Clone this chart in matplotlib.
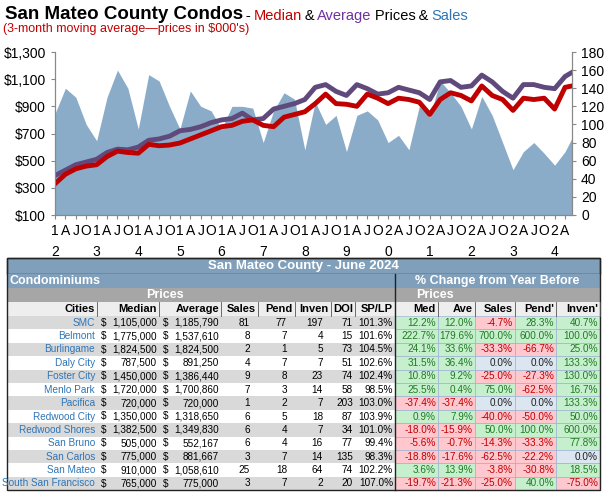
import numpy as np
import matplotlib.pyplot as plt
from matplotlib.patches import Rectangle

plt.rcParams['font.family'] = ['Liberation Sans', 'DejaVu Sans']

# quarterly points, months since Jan 2012
months = list(range(0, 148, 3)) + [149]
median = [330, 400, 440, 460, 470, 530, 570, 560, 555, 620, 610, 615, 630, 660, 690, 720,
          750, 760, 790, 800, 760, 750, 820, 840, 860, 920, 990, 920, 915, 900, 990, 960,
          920, 960, 950, 930, 840, 950, 1000, 980, 940, 1050, 980, 950, 870, 960, 950, 960,
          880, 1040, 1050]
average = [390, 430, 470, 490, 510, 560, 585, 580, 600, 650, 660, 680, 720, 730, 750, 780,
           800, 810, 850, 800, 810, 880, 900, 920, 950, 1040, 1060, 1010, 980, 1060, 1030, 990,
           1000, 1040, 1020, 1000, 950, 1080, 1090, 1040, 1050, 1130, 1080, 1010, 960, 1060, 1060, 1040,
           1030, 1120, 1150]
sales = [112, 140, 130, 100, 82, 130, 160, 140, 95, 155, 148, 120, 95, 137, 120, 115,
         95, 120, 120, 118, 80, 115, 135, 128, 72, 125, 100, 110, 70, 110, 115, 105,
         80, 88, 72, 120, 108, 148, 135, 120, 95, 131, 110, 80, 50, 70, 80, 68,
         55, 70, 85]

fig = plt.figure(figsize=(6.05, 4.95), dpi=100)

ax = fig.add_axes([55 / 605, 1 - 215 / 495, 517 / 605, 163 / 495])
ax2 = ax.twinx()
ax2.fill_between(months, sales, color='#8aacc8', lw=0)
ax2.set_ylim(0, 180)
ax2.set_yticks(range(0, 181, 20))
ax.set_zorder(ax2.get_zorder() + 1)
ax.patch.set_visible(False)
ax.plot(months, average, color='#604a7b', lw=3.5)
ax.plot(months, median, color='#c00000', lw=3.5)
ax.set_ylim(100, 1300)
ax.set_yticks(range(100, 1301, 200))
ax.set_yticklabels([f'${v:,}' for v in range(100, 1301, 200)])
ax.set_xlim(0, 149)
ticks = list(range(0, 150, 3))
labs = []
for t in ticks:
    y, q = 2012 + t // 12, (t % 12) // 3
    labs.append(f'{str(y)[2]}\n{str(y)[3]}' if q == 0 else ['1', 'A', 'J', 'O'][q] + '\n')
ax.set_xticks(ticks)
ax.set_xticklabels(labs, linespacing=1.6)
for a in (ax, ax2):
    a.tick_params(labelsize=10, length=3, color='#888888')
    for s in a.spines.values():
        s.set_color('#888888')
ax.spines['top'].set_visible(False)
ax2.spines['top'].set_visible(False)

prev = fig.text(0.008, 0.962, 'San Mateo County Condos', fontsize=13.5, weight='bold')
for txt, c in [(' - ', 'black'), ('Median', '#c00000'), (' & ', 'black'), ('Average', '#7030a0'),
               (' Prices & ', 'black'), ('Sales', '#2e75b6')]:
    prev = fig.text(0, 0, txt, fontsize=10.5, color=c, transform=prev.get_transform())
    prev = None if False else prev
# chain via annotate for exact placement
fig.texts = fig.texts[:1]
prev = fig.texts[0]
for txt, c in [('\u2009-\u2009', 'black'), ('Median', '#c00000'), ('\u2009&\u2009', 'black'), ('Average', '#7030a0'),
               ('\u2009Prices\u2009&\u2009', 'black'), ('Sales', '#2e75b6')]:
    prev = fig.add_artist(plt.Annotation(txt, xy=(1, 0), xycoords=prev, xytext=(0, 0),
                                         textcoords='offset points', fontsize=10.5, color=c, va='bottom'))
fig.text(0.005, 0.935, "(3-month moving average\u2014prices in $000's)", fontsize=9, color='#c00000')

# ---- table ----
cities = ['SMC', 'Belmont', 'Burlingame', 'Daly City', 'Foster City', 'Menlo Park', 'Pacifica',
          'Redwood City', 'Redwood Shores', 'San Bruno', 'San Carlos', 'San Mateo', 'South San Francisco']
med_price = [1105000, 1775000, 1824500, 787500, 1450000, 1720000, 720000, 1350000, 1382500, 505000,
             775000, 910000, 765000]
avg_price = [1185790, 1537610, 1824500, 891250, 1386440, 1700860, 720000, 1318650, 1349830, 552167,
             881667, 1058610, 775000]
n_sales = [81, 8, 2, 4, 9, 7, 1, 6, 6, 6, 3, 25, 3]
pend = [77, 7, 1, 7, 8, 3, 2, 5, 4, 4, 7, 18, 7]
inven = [197, 4, 5, 7, 23, 14, 7, 18, 7, 16, 14, 64, 2]
doi = [71, 15, 73, 51, 74, 58, 203, 87, 34, 77, 135, 74, 20]
splp = ['101.3%', '101.6%', '104.5%', '102.6%', '102.4%', '98.5%', '103.0%', '103.9%', '101.0%',
        '99.4%', '98.3%', '102.2%', '107.0%']
ch_med = ['12.2%', '222.7%', '24.1%', '31.5%', '10.8%', '25.5%', '-37.4%', '0.9%', '-18.0%', '-5.6%',
          '-18.8%', '3.6%', '-19.7%']
ch_ave = ['12.0%', '179.6%', '33.6%', '36.4%', '9.2%', '0.4%', '-37.4%', '7.9%', '-15.9%', '-0.7%',
          '-17.6%', '13.9%', '-21.3%']
ch_sales = ['-4.7%', '700.0%', '-33.3%', '0.0%', '-25.0%', '75.0%', '0.0%', '-40.0%', '50.0%', '-14.3%',
            '-62.5%', '-3.8%', '-25.0%']
ch_pend = ['28.3%', '600.0%', '-66.7%', '0.0%', '-27.3%', '-62.5%', '0.0%', '-50.0%', '100.0%', '-33.3%',
           '-22.2%', '-30.8%', '40.0%']
ch_inven = ['40.7%', '100.0%', '25.0%', '133.3%', '130.0%', '16.7%', '133.3%', '50.0%', '600.0%', '77.8%',
            '0.0%', '18.5%', '-75.0%']

tb = fig.add_axes([0, 0, 1, 1])
tb.set_xlim(0, 605)
tb.set_ylim(495, 0)
tb.axis('off')
L, D, R = 7, 395, 600
head = '#7f9fbb'
fs = 7.2

def cell(x0, y0, x1, y1, fc, ec='none', lw=0.5):
    tb.add_patch(Rectangle((x0, y0), x1 - x0, y1 - y0, fc=fc, ec=ec, lw=lw))

cell(L, 258, R, 274, head, '#333333', 1)
tb.text((L + R) / 2, 266, 'San Mateo County - June 2024', ha='center', va='center', color='white', fontsize=9.5, weight='bold')
cell(L, 274, R, 288, head)
tb.text(L + 2, 281, 'Condominiums', va='center', color='white', fontsize=9, weight='bold')
tb.text((D + R) / 2, 281, '% Change from Year Before', ha='center', va='center', color='white', fontsize=9, weight='bold')
cell(L, 288, R, 302, '#a6a6a6')
tb.text(165, 295, 'Prices', ha='center', va='center', color='white', fontsize=9, weight='bold')
tb.text(435, 295, 'Prices', ha='center', va='center', color='white', fontsize=9, weight='bold')
cell(L, 302, R, 316, '#eeeeee')

edges = [L, 97, 159, 221, 258, 295, 331, 355, D, 438, 475, 515, 556, R]
names = ['Cities', 'Median', 'Average', 'Sales', 'Pend', 'Inven', 'DOI', 'SP/LP', 'Med', 'Ave', 'Sales', "Pend'", "Inven'"]
for i, nm in enumerate(names):
    tb.text(edges[i + 1] - 2, 309, nm, ha='right', va='center', fontsize=8, weight='bold')
    tb.plot([edges[i + 1]] * 2, [302, 316], color='#555555', lw=0.6)

rh = 13.4
changes = [ch_med, ch_ave, ch_sales, ch_pend, ch_inven]
for r in range(len(cities)):
    y0 = 316 + r * rh
    yc = y0 + rh / 2
    cell(L, y0, D, y0 + rh, '#d9d9d9' if r % 2 == 0 else 'white')
    t = tb.text(edges[1] - 2, yc, cities[r], ha='right', va='center', fontsize=fs, color='#2e75b6')
    t.set_clip_path(Rectangle((L, 0), 200, 495, transform=tb.transData))
    tb.text(101, yc, '$', va='center', fontsize=fs)
    tb.text(edges[2] - 2, yc, f'{med_price[r]:,}', ha='right', va='center', fontsize=fs)
    tb.text(163, yc, '$', va='center', fontsize=fs)
    tb.text(edges[3] - 2, yc, f'{avg_price[r]:,}', ha='right', va='center', fontsize=fs)
    for j, v in enumerate([n_sales[r], pend[r], inven[r], doi[r], splp[r]]):
        tb.text(edges[4 + j] - 8 if j < 3 else edges[4 + j] - 2, yc, str(v), ha='right', va='center', fontsize=fs)
    for j, col in enumerate(changes):
        v = col[r]
        if v.startswith('-'):
            fc, tc = '#ffc7ce', '#c00000'
        elif v == '0.0%':
            fc, tc = '#dce6f1', '#1f1f1f'
        else:
            fc, tc = '#c6efce', '#217a21'
        cell(edges[8 + j], y0, edges[9 + j], y0 + rh, fc, '#9db3d0', 0.5)
        tb.text(edges[9 + j] - 2, yc, v, ha='right', va='center', fontsize=fs, color=tc)
tb.plot([D, D], [274, 316 + 13 * rh], color='#222222', lw=1)
tb.add_patch(Rectangle((L, 258), R - L, 316 + 13 * rh - 258, fc='none', ec='#222222', lw=1))

fig.savefig('out.png', dpi=100)
